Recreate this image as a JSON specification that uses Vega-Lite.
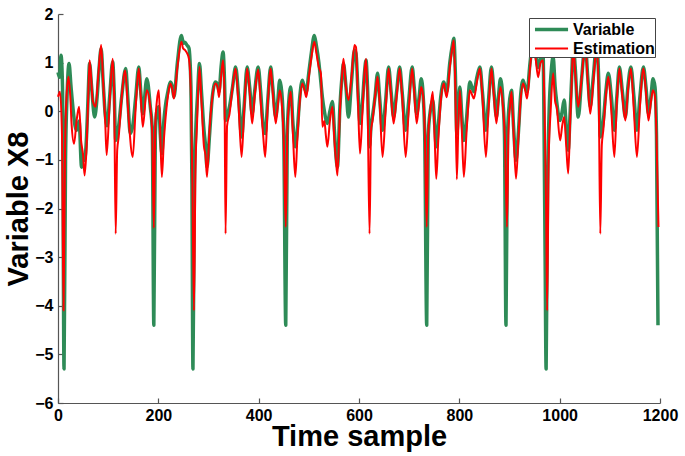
{
  "$schema": "https://vega.github.io/schema/vega-lite/v6.json",
  "autosize": {"type": "none"},
  "padding": {"left": 58, "top": 14, "right": 25, "bottom": 53},
  "width": 602,
  "height": 389,
  "background": "white",
  "config": {
    "view": {"stroke": null},
    "font": "Liberation Sans",
    "axis": {
      "labelFont": "Liberation Sans", "labelFontWeight": "bold", "labelFontSize": 16, "labelColor": "black",
      "titleFont": "Liberation Sans", "titleFontWeight": "bold", "titleFontSize": 29, "titleColor": "black",
      "domainColor": "#555", "tickColor": "#555", "domainWidth": 1.2, "tickWidth": 1.2,
      "grid": false, "labelFlush": false, "labelOverlap": false
    }
  },
  "datasets": {
    "variable": [
      {"t":0,"v":0.8},{"t":3,"v":0.7},{"t":6,"v":1.15},{"t":9,"v":0.5},{"t":12,"v":-5.3},{"t":15,"v":-1.0},{"t":18,"v":0.3},{"t":22,"v":0.98},{"t":26,"v":0.5},{"t":31,"v":-0.05},{"t":34,"v":-0.3},{"t":37,"v":-0.39},{"t":42,"v":-0.2},{"t":47,"v":-1.15},{"t":50,"v":-0.9},{"t":53,"v":-1.01},{"t":57,"v":-0.5},{"t":60,"v":0.3},{"t":63,"v":0.98},{"t":67,"v":0.5},{"t":73,"v":-0.12},{"t":78,"v":0.3},{"t":82,"v":0.9},{"t":86,"v":1.29},{"t":90,"v":0.6},{"t":94,"v":-0.05},{"t":98,"v":-0.3},{"t":103,"v":0.3},{"t":109,"v":1.02},{"t":112,"v":0.4},{"t":115,"v":-0.6},{"t":118,"v":-0.5},{"t":121,"v":-0.3},{"t":127,"v":0.3},{"t":135,"v":0.88},{"t":139,"v":0.3},{"t":144,"v":-0.46},{"t":149,"v":-0.3},{"t":155,"v":0.3},{"t":161,"v":0.91},{"t":165,"v":0.4},{"t":169,"v":-0.05},{"t":177,"v":0.67},{"t":184,"v":0.09},{"t":188,"v":-0.4},{"t":191,"v":-4.4},{"t":194,"v":-0.5},{"t":197,"v":0.0},{"t":201,"v":0.09},{"t":204,"v":-0.5},{"t":207,"v":-0.87},{"t":211,"v":-0.2},{"t":214,"v":0.1},{"t":219,"v":0.4},{"t":224,"v":0.6},{"t":228,"v":0.5},{"t":231,"v":0.29},{"t":238,"v":1.0},{"t":246,"v":1.56},{"t":250,"v":1.4},{"t":253,"v":1.42},{"t":257,"v":1.36},{"t":261,"v":1.3},{"t":265,"v":0.5},{"t":267,"v":-1.5},{"t":269,"v":-5.3},{"t":272,"v":-1.5},{"t":275,"v":-0.3},{"t":278,"v":0.3},{"t":282,"v":0.98},{"t":286,"v":0.4},{"t":291,"v":-0.39},{"t":294,"v":-0.7},{"t":297,"v":-1.15},{"t":302,"v":-0.5},{"t":307,"v":0.23},{"t":314,"v":0.6},{"t":318,"v":0.55},{"t":321,"v":0.4},{"t":325,"v":0.9},{"t":329,"v":1.22},{"t":332,"v":0.6},{"t":334,"v":-0.19},{"t":337,"v":-0.1},{"t":342,"v":0.1},{"t":348,"v":0.5},{"t":354,"v":0.91},{"t":360,"v":0.3},{"t":366,"v":-0.53},{"t":371,"v":0.1},{"t":377,"v":0.91},{"t":382,"v":0.5},{"t":387,"v":-0.05},{"t":392,"v":0.4},{"t":399,"v":0.91},{"t":404,"v":0.4},{"t":409,"v":-0.3},{"t":413,"v":-0.46},{"t":418,"v":0.2},{"t":424,"v":0.91},{"t":428,"v":0.5},{"t":434,"v":-0.12},{"t":438,"v":0.2},{"t":442,"v":0.64},{"t":446,"v":0.4},{"t":450,"v":-0.5},{"t":454,"v":-4.4},{"t":457,"v":-0.5},{"t":460,"v":0.2},{"t":464,"v":0.5},{"t":468,"v":-0.2},{"t":473,"v":-0.73},{"t":477,"v":-0.4},{"t":482,"v":0.3},{"t":487,"v":0.64},{"t":491,"v":0.5},{"t":495,"v":0.4},{"t":500,"v":0.8},{"t":505,"v":1.2},{"t":511,"v":1.56},{"t":515,"v":1.35},{"t":520,"v":1.0},{"t":524,"v":0.6},{"t":527,"v":0.29},{"t":531,"v":0.0},{"t":537,"v":-0.25},{"t":542,"v":0.0},{"t":547,"v":0.2},{"t":551,"v":-0.4},{"t":554,"v":-0.9},{"t":557,"v":-1.15},{"t":562,"v":0.1},{"t":566,"v":0.7},{"t":569,"v":0.98},{"t":574,"v":0.5},{"t":579,"v":-0.12},{"t":585,"v":0.6},{"t":591,"v":1.26},{"t":594,"v":1.19},{"t":598,"v":0.4},{"t":602,"v":-0.25},{"t":607,"v":0.2},{"t":611,"v":0.8},{"t":614,"v":1.05},{"t":617,"v":0.5},{"t":621,"v":-0.73},{"t":624,"v":-0.3},{"t":627,"v":-0.1},{"t":632,"v":0.3},{"t":637,"v":0.78},{"t":641,"v":0.3},{"t":647,"v":-0.39},{"t":653,"v":0.2},{"t":659,"v":0.91},{"t":664,"v":0.4},{"t":669,"v":-0.12},{"t":675,"v":0.4},{"t":681,"v":0.91},{"t":686,"v":0.4},{"t":693,"v":-0.39},{"t":699,"v":0.2},{"t":706,"v":0.91},{"t":710,"v":0.5},{"t":715,"v":-0.05},{"t":720,"v":0.3},{"t":724,"v":0.67},{"t":728,"v":0.3},{"t":731,"v":-0.5},{"t":735,"v":-4.4},{"t":738,"v":-0.5},{"t":742,"v":0.0},{"t":747,"v":0.23},{"t":751,"v":-0.3},{"t":754,"v":-0.73},{"t":758,"v":-0.3},{"t":763,"v":0.3},{"t":769,"v":0.6},{"t":772,"v":0.5},{"t":775,"v":0.4},{"t":781,"v":1.0},{"t":786,"v":1.35},{"t":789,"v":1.5},{"t":792,"v":0.8},{"t":795,"v":-0.46},{"t":798,"v":0.0},{"t":801,"v":0.5},{"t":805,"v":-0.1},{"t":809,"v":-0.6},{"t":814,"v":-0.2},{"t":817,"v":0.2},{"t":821,"v":0.6},{"t":825,"v":0.5},{"t":829,"v":0.4},{"t":835,"v":0.7},{"t":841,"v":0.91},{"t":846,"v":0.4},{"t":853,"v":-0.39},{"t":858,"v":0.2},{"t":864,"v":0.91},{"t":869,"v":0.4},{"t":874,"v":-0.12},{"t":878,"v":0.3},{"t":882,"v":0.67},{"t":887,"v":0.2},{"t":890,"v":-0.5},{"t":893,"v":-4.4},{"t":896,"v":-0.5},{"t":900,"v":0.2},{"t":904,"v":0.43},{"t":908,"v":-0.3},{"t":913,"v":-1.01},{"t":918,"v":-0.4},{"t":922,"v":0.3},{"t":927,"v":0.64},{"t":931,"v":0.5},{"t":935,"v":0.4},{"t":941,"v":1.0},{"t":947,"v":1.45},{"t":952,"v":1.2},{"t":957,"v":0.9},{"t":962,"v":1.1},{"t":967,"v":1.15},{"t":969,"v":-0.5},{"t":971,"v":-3.0},{"t":973,"v":-5.3},{"t":976,"v":-1.5},{"t":979,"v":0.0},{"t":983,"v":0.8},{"t":987,"v":1.12},{"t":991,"v":0.5},{"t":994,"v":0.2},{"t":1001,"v":-0.19},{"t":1005,"v":0.0},{"t":1009,"v":0.23},{"t":1013,"v":-0.3},{"t":1017,"v":-0.8},{"t":1021,"v":0.0},{"t":1024,"v":0.7},{"t":1027,"v":1.4},{"t":1031,"v":0.9},{"t":1037,"v":-0.12},{"t":1044,"v":0.7},{"t":1051,"v":1.4},{"t":1056,"v":0.7},{"t":1061,"v":0.09},{"t":1067,"v":0.7},{"t":1074,"v":1.4},{"t":1078,"v":0.6},{"t":1081,"v":-0.53},{"t":1084,"v":-0.4},{"t":1087,"v":-0.2},{"t":1092,"v":0.4},{"t":1097,"v":0.78},{"t":1103,"v":0.3},{"t":1109,"v":-0.39},{"t":1114,"v":0.3},{"t":1119,"v":0.91},{"t":1125,"v":0.4},{"t":1131,"v":-0.12},{"t":1136,"v":0.5},{"t":1142,"v":0.91},{"t":1148,"v":0.3},{"t":1154,"v":-0.39},{"t":1160,"v":0.3},{"t":1167,"v":0.91},{"t":1172,"v":0.5},{"t":1177,"v":-0.05},{"t":1182,"v":0.3},{"t":1186,"v":0.67},{"t":1190,"v":0.5},{"t":1193,"v":-0.5},{"t":1196,"v":-4.4}
    ],
    "estimation": [
      {"t":0,"v":0.3},{"t":4,"v":0.4},{"t":8,"v":-0.5},{"t":11,"v":-4.1},{"t":14,"v":-0.8},{"t":17,"v":0.3},{"t":21,"v":0.71},{"t":25,"v":0.2},{"t":27,"v":-0.25},{"t":32,"v":-0.67},{"t":37,"v":-0.2},{"t":42,"v":0.09},{"t":46,"v":-0.6},{"t":50,"v":-0.9},{"t":53,"v":-1.32},{"t":57,"v":-0.73},{"t":60,"v":0.2},{"t":63,"v":1.05},{"t":66,"v":0.7},{"t":69,"v":0.23},{"t":75,"v":0.09},{"t":80,"v":0.7},{"t":86,"v":1.36},{"t":90,"v":0.6},{"t":94,"v":-0.19},{"t":97,"v":-0.9},{"t":103,"v":0.2},{"t":109,"v":1.08},{"t":112,"v":0.3},{"t":115,"v":-2.52},{"t":118,"v":-0.8},{"t":121,"v":-0.53},{"t":127,"v":0.3},{"t":134,"v":0.84},{"t":138,"v":0.3},{"t":142,"v":-0.32},{"t":149,"v":-0.94},{"t":155,"v":0.1},{"t":161,"v":0.88},{"t":165,"v":0.3},{"t":169,"v":-0.32},{"t":177,"v":0.43},{"t":184,"v":0.09},{"t":188,"v":-0.5},{"t":191,"v":-2.4},{"t":194,"v":-0.3},{"t":197,"v":0.2},{"t":201,"v":0.43},{"t":204,"v":-0.5},{"t":207,"v":-1.35},{"t":211,"v":-0.6},{"t":214,"v":-0.19},{"t":219,"v":0.3},{"t":224,"v":0.57},{"t":228,"v":0.45},{"t":231,"v":0.26},{"t":238,"v":0.9},{"t":246,"v":1.43},{"t":249,"v":1.3},{"t":253,"v":1.26},{"t":257,"v":1.2},{"t":261,"v":1.08},{"t":265,"v":0.3},{"t":268,"v":-1.5},{"t":271,"v":-4.1},{"t":274,"v":-1.2},{"t":277,"v":-0.3},{"t":282,"v":0.91},{"t":286,"v":0.2},{"t":291,"v":-0.73},{"t":294,"v":-0.9},{"t":297,"v":-1.35},{"t":302,"v":-0.4},{"t":307,"v":0.23},{"t":314,"v":0.57},{"t":318,"v":0.5},{"t":321,"v":0.29},{"t":325,"v":0.7},{"t":329,"v":1.05},{"t":332,"v":0.3},{"t":334,"v":-2.52},{"t":337,"v":-0.3},{"t":342,"v":-0.05},{"t":348,"v":0.5},{"t":354,"v":0.88},{"t":360,"v":0.1},{"t":366,"v":-0.94},{"t":371,"v":0.0},{"t":377,"v":0.88},{"t":382,"v":0.4},{"t":387,"v":-0.25},{"t":392,"v":0.3},{"t":399,"v":0.86},{"t":404,"v":0.2},{"t":409,"v":-0.5},{"t":413,"v":-0.94},{"t":418,"v":0.1},{"t":424,"v":0.88},{"t":428,"v":0.4},{"t":434,"v":-0.25},{"t":438,"v":0.1},{"t":442,"v":0.43},{"t":446,"v":0.16},{"t":450,"v":-0.6},{"t":454,"v":-2.38},{"t":457,"v":-0.5},{"t":460,"v":0.1},{"t":464,"v":0.4},{"t":468,"v":-0.4},{"t":473,"v":-1.35},{"t":477,"v":-0.6},{"t":482,"v":0.2},{"t":487,"v":0.57},{"t":491,"v":0.45},{"t":495,"v":0.29},{"t":500,"v":0.7},{"t":505,"v":1.1},{"t":511,"v":1.43},{"t":515,"v":1.2},{"t":520,"v":0.9},{"t":524,"v":0.78},{"t":527,"v":-0.32},{"t":531,"v":-0.2},{"t":534,"v":-0.5},{"t":537,"v":-0.73},{"t":542,"v":-0.2},{"t":547,"v":0.09},{"t":551,"v":-0.6},{"t":554,"v":-1.0},{"t":557,"v":-1.32},{"t":562,"v":0.0},{"t":566,"v":0.7},{"t":569,"v":1.08},{"t":574,"v":0.5},{"t":579,"v":0.23},{"t":585,"v":0.7},{"t":591,"v":1.36},{"t":594,"v":1.32},{"t":598,"v":0.2},{"t":602,"v":-0.87},{"t":607,"v":0.0},{"t":611,"v":0.8},{"t":614,"v":1.08},{"t":617,"v":0.3},{"t":621,"v":-2.52},{"t":624,"v":-0.4},{"t":627,"v":-0.19},{"t":632,"v":0.3},{"t":637,"v":0.71},{"t":641,"v":0.2},{"t":647,"v":-0.94},{"t":653,"v":0.0},{"t":659,"v":0.88},{"t":664,"v":0.3},{"t":669,"v":-0.25},{"t":675,"v":0.3},{"t":681,"v":0.88},{"t":686,"v":0.3},{"t":693,"v":-0.94},{"t":699,"v":0.0},{"t":706,"v":0.88},{"t":710,"v":0.4},{"t":715,"v":-0.25},{"t":720,"v":0.2},{"t":724,"v":0.5},{"t":728,"v":0.3},{"t":731,"v":-0.4},{"t":735,"v":-2.38},{"t":738,"v":-0.5},{"t":742,"v":0.0},{"t":747,"v":0.4},{"t":751,"v":-0.6},{"t":754,"v":-1.39},{"t":758,"v":-0.6},{"t":763,"v":0.2},{"t":769,"v":0.57},{"t":772,"v":0.4},{"t":775,"v":0.29},{"t":781,"v":0.9},{"t":786,"v":1.3},{"t":789,"v":1.46},{"t":792,"v":0.5},{"t":795,"v":-1.4},{"t":798,"v":-0.3},{"t":801,"v":0.43},{"t":805,"v":-0.4},{"t":809,"v":-1.35},{"t":814,"v":-0.5},{"t":817,"v":0.0},{"t":821,"v":0.43},{"t":825,"v":0.35},{"t":829,"v":0.26},{"t":835,"v":0.6},{"t":841,"v":0.88},{"t":846,"v":0.3},{"t":853,"v":-0.94},{"t":858,"v":0.0},{"t":864,"v":0.88},{"t":869,"v":0.3},{"t":874,"v":-0.25},{"t":878,"v":0.2},{"t":882,"v":0.5},{"t":887,"v":0.09},{"t":891,"v":-0.6},{"t":895,"v":-2.38},{"t":898,"v":-0.4},{"t":901,"v":0.1},{"t":904,"v":0.4},{"t":908,"v":-0.4},{"t":913,"v":-1.39},{"t":918,"v":-0.5},{"t":922,"v":0.2},{"t":927,"v":0.57},{"t":931,"v":0.45},{"t":935,"v":0.26},{"t":941,"v":0.9},{"t":947,"v":1.45},{"t":952,"v":1.1},{"t":957,"v":0.7},{"t":962,"v":1.0},{"t":967,"v":1.05},{"t":970,"v":0.0},{"t":973,"v":-2.0},{"t":975,"v":-4.1},{"t":978,"v":-1.0},{"t":982,"v":0.0},{"t":987,"v":0.78},{"t":991,"v":0.2},{"t":994,"v":0.09},{"t":1001,"v":-0.6},{"t":1005,"v":-0.3},{"t":1009,"v":-0.12},{"t":1013,"v":-0.7},{"t":1017,"v":-1.28},{"t":1021,"v":-0.2},{"t":1024,"v":0.6},{"t":1027,"v":1.35},{"t":1031,"v":0.8},{"t":1037,"v":0.09},{"t":1044,"v":0.7},{"t":1051,"v":1.38},{"t":1056,"v":0.6},{"t":1061,"v":-0.05},{"t":1067,"v":0.6},{"t":1074,"v":1.35},{"t":1078,"v":0.2},{"t":1081,"v":-2.52},{"t":1084,"v":-0.7},{"t":1087,"v":-0.39},{"t":1092,"v":0.3},{"t":1097,"v":0.71},{"t":1103,"v":0.0},{"t":1109,"v":-0.94},{"t":1114,"v":0.2},{"t":1119,"v":0.88},{"t":1125,"v":0.3},{"t":1131,"v":-0.19},{"t":1136,"v":0.4},{"t":1142,"v":0.88},{"t":1148,"v":0.0},{"t":1154,"v":-0.94},{"t":1160,"v":0.1},{"t":1167,"v":0.88},{"t":1172,"v":0.4},{"t":1177,"v":-0.19},{"t":1182,"v":0.2},{"t":1186,"v":0.43},{"t":1190,"v":0.3},{"t":1193,"v":-0.5},{"t":1197,"v":-2.38}
    ]
  },
  "encoding": {
    "x": {"field": "t", "type": "quantitative", "title": "Time sample",
      "scale": {"domain": [0, 1200], "nice": false, "zero": false},
      "axis": {"values": [0, 200, 400, 600, 800, 1000, 1200], "format": "d", "tickSize": -5, "labelPadding": 9, "titleBaseline": "alphabetic", "titleY": 42}},
    "y": {"field": "v", "type": "quantitative", "title": "Variable X8",
      "scale": {"domain": [-6, 2], "nice": false, "zero": false},
      "axis": {"values": [-6, -5, -4, -3, -2, -1, 0, 1, 2], "tickSize": -5, "labelPadding": 10, "titlePadding": 1}}
  },
  "layer": [
    {
      "data": {"name": "variable"},
      "mark": {"type": "line", "interpolate": "monotone", "strokeJoin": "round"},
      "encoding": {
        "color": {"datum": "Variable", "type": "nominal",
          "scale": {"domain": ["Variable", "Estimation"], "range": ["#2E8B57", "#FF0000"]},
          "legend": {"title": null, "orient": "none", "legendX": 471, "legendY": 4,
            "symbolType": "M-0.58,0H2.9", "symbolSize": 361,
            "labelFont": "Liberation Sans", "labelFontWeight": "bold", "labelFontSize": 16, "labelColor": "black",
            "strokeColor": "#444", "fillColor": "white", "padding": 0, "rowPadding": 0, "labelOffset": 21}},
        "strokeWidth": {"datum": "Variable", "type": "nominal",
          "scale": {"domain": ["Variable", "Estimation"], "range": [3.5, 2]}}
      }
    },
    {
      "data": {"name": "estimation"},
      "mark": {"type": "line", "interpolate": "monotone", "strokeJoin": "round"},
      "encoding": {
        "color": {"datum": "Estimation", "type": "nominal"},
        "strokeWidth": {"datum": "Estimation", "type": "nominal"}
      }
    }
  ]
}
